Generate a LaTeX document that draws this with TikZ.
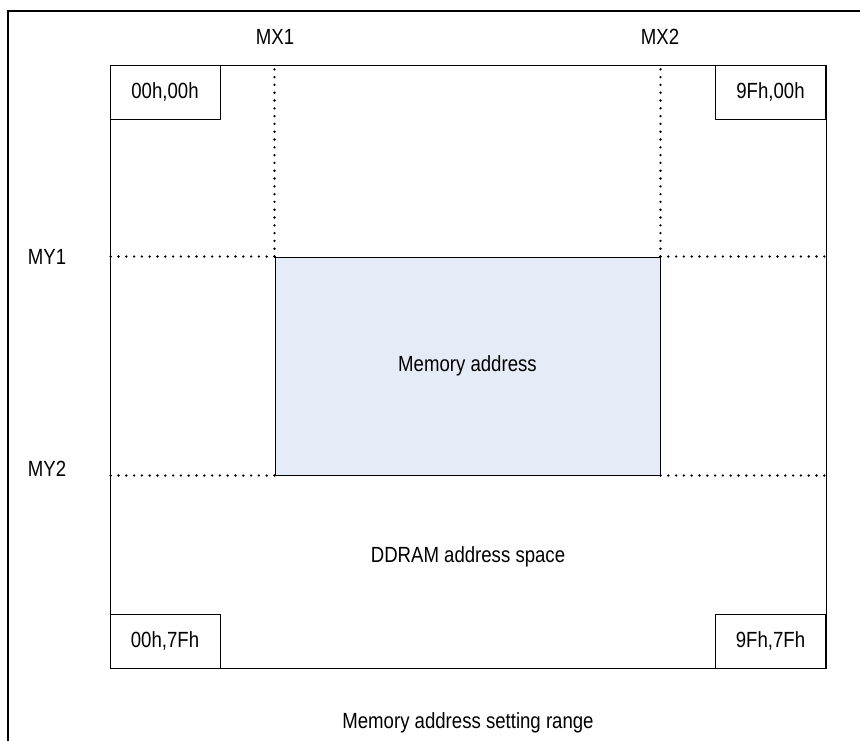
\documentclass[tikz,border=0pt]{standalone}
\usepackage{fontspec}
\setmainfont{Liberation Sans}
\usepackage{graphicx}
\definecolor{memfill}{RGB}{230,236,247}
\newcommand{\lbl}[1]{\scalebox{1}[1.18]{#1}}
\tikzset{
  txt/.style={font=\fontsize{18.6}{22}\selectfont, inner sep=0pt},
  cornerbox/.style={draw, line width=1pt, minimum width=110pt, minimum height=54pt, inner sep=0pt, font=\fontsize{18.6}{22}\selectfont},
  dotline/.style={line width=2.6pt, line cap=round, dash pattern=on 0pt off 7.8pt},
}
\begin{document}
\begin{tikzpicture}[x=1pt,y=-1pt]
\useasboundingbox (0,0) rectangle (860,740);
\fill[white] (0,0) rectangle (860,740);
\begin{scope}
\clip (0,0) rectangle (860,740);
\draw[line width=1.4pt] (8,11) rectangle (900,780);
\end{scope}
% inner DDRAM space
\node[draw, line width=1pt, minimum width=716pt, minimum height=603pt, inner sep=0pt] (space) at (468,366.5) {};
% memory address window
\node[draw, fill=memfill, line width=1pt, minimum width=385pt, minimum height=218pt, inner sep=0pt, txt] (mem) at (467.5,366) {\lbl{Memory address}};
% corner boxes
\node[cornerbox] (c00) at (165,92) {\lbl{00h,00h}};
\node[cornerbox] (c90) at (770.5,92) {\lbl{9Fh,00h}};
\node[cornerbox] (c07) at (165,641) {\lbl{00h,7Fh}};
\node[cornerbox] (c97) at (770.5,641) {\lbl{9Fh,7Fh}};
% dotted guides
\draw[dotline] (mem.north west) -- (mem.north west |- space.north);
\draw[dotline] (mem.north east) -- (mem.north east |- space.north);
\draw[dotline] (mem.north west) -- (mem.north west -| space.west);
\draw[dotline] (mem.north east) -- (mem.north east -| space.east);
\draw[dotline] (mem.south west) -- (mem.south west -| space.west);
\draw[dotline] (mem.south east) -- (mem.south east -| space.east);
% labels
\node[txt] (mx1) at (275,37) {\lbl{MX1}};
\node[txt] (mx2) at (660,37) {\lbl{MX2}};
\node[txt] (my1) at (47,257) {\lbl{MY1}};
\node[txt] (my2) at (47,469) {\lbl{MY2}};
\node[txt] (ddram) at (468,557) {\lbl{DDRAM address space}};
\node[txt] (range) at (468,723) {\lbl{Memory address setting range}};
\end{tikzpicture}
\end{document}
